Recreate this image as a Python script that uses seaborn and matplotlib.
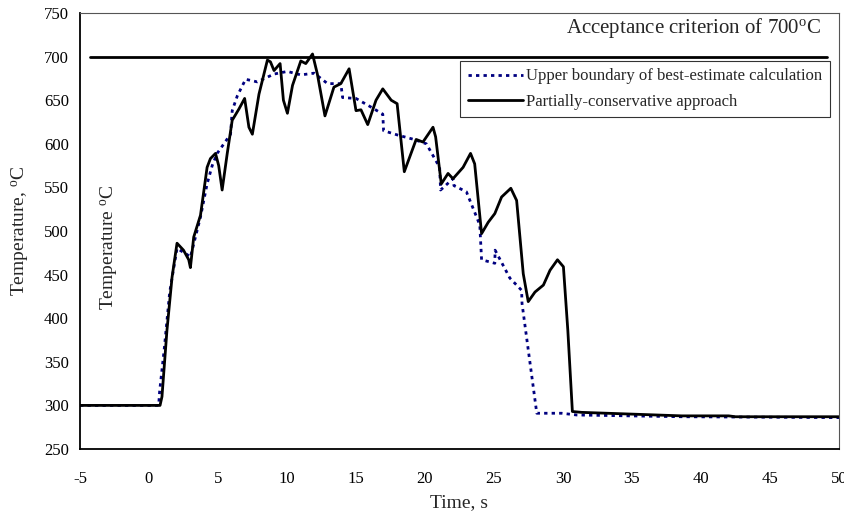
import matplotlib
matplotlib.use("Agg")
import matplotlib.pyplot as plt
import seaborn as sns
import pandas as pd

# Partially-conservative approach (solid)
t_cons = [-5, 0.8, 0.94, 1.3, 1.67, 2.03, 2.5, 2.88, 3.0, 3.24, 3.73, 4.21, 4.45, 4.82, 5.05, 5.3,
          5.67, 6.03, 6.52, 6.93, 7.24, 7.49, 7.97, 8.58, 8.8, 9.06, 9.5, 9.74, 10.03, 10.4, 11.0,
          11.36, 11.85, 12.2, 12.75, 13.4, 13.9, 14.5, 15.0, 15.36, 15.85, 16.45, 16.94, 17.55,
          17.98, 18.5, 19.36, 19.85, 20.58, 20.77, 21.18, 21.67, 22.03, 22.76, 23.3, 23.6, 24.1,
          24.58, 25.06, 25.55, 26.22, 26.64, 27.12, 27.48, 27.97, 28.58, 29.06, 29.6, 30.03,
          30.35, 30.68, 31.36, 35, 38.6, 42, 42.5, 50]
T_cons = [300, 300, 310, 386, 447, 486, 478, 467, 458, 493, 518, 573, 583, 589, 575, 547,
          589, 627, 640, 652, 619, 611, 657, 696, 694, 684, 692, 650, 635, 667, 695,
          692, 703, 680, 632, 665, 669, 686, 638, 639, 622, 650, 663, 650,
          646, 568, 605, 602, 619, 608, 554, 566, 560, 573, 589, 577, 497,
          510, 520, 539, 549, 535, 451, 419, 430, 438, 455, 467, 459,
          386, 293, 292, 290, 288, 288, 287, 287]

# Upper boundary of best-estimate calculation (dotted)
t_be = [-5, 0.7, 0.77, 1.1, 1.5, 2.03, 2.76, 3.0, 3.73, 4.21, 4.58, 4.94, 5.91, 6.03, 6.4, 7.0,
        7.85, 9.06, 10.03, 11.0, 11.97, 12.94, 13.9, 14.03, 15.0, 16.1, 16.94, 17.0, 18.03,
        19.2, 20.1, 21.06, 21.13, 22.03, 22.1, 23.0, 23.97, 24.1, 25.06, 25.08, 26.15, 27.0,
        27.03, 28.1, 29.9, 31, 38.6, 50]
T_be = [300, 300, 316, 364, 430, 480, 473, 470, 516, 554, 575, 589, 611, 638, 655, 674,
        671, 680, 683, 679, 681, 669, 669, 653, 652, 642, 634, 615, 610,
        605, 600, 573, 547, 560, 552, 545, 507, 467, 463, 478, 446, 432,
        417, 291, 291, 289, 287, 286]

crit_t = [-4.3, 49.1]
crit_T = [700, 700]

x_ticks = [-5, 0, 5, 10, 15, 20, 25, 30, 35, 40, 45, 50]
y_ticks = [250, 300, 350, 400, 450, 500, 550, 600, 650, 700, 750]

sns.set_theme(style="white")
plt.rcParams['font.family'] = ['Liberation Serif', 'DejaVu Serif']
plt.rcParams['mathtext.fontset'] = 'custom'
plt.rcParams['mathtext.rm'] = 'Liberation Serif'
plt.rcParams['mathtext.it'] = 'Liberation Serif:italic'

fig = plt.figure(figsize=(8.45, 5.15), dpi=100)
ax = fig.add_axes([80 / 845, 1 - 449 / 515, (839 - 80) / 845, (449 - 13) / 515])

df_be = pd.DataFrame({"t": t_be, "T": T_be})
df_cons = pd.DataFrame({"t": t_cons, "T": T_cons})
df_crit = pd.DataFrame({"t": crit_t, "T": crit_T})

sns.lineplot(data=df_crit, x="t", y="T", ax=ax, color="black", linewidth=2.0, sort=False)
sns.lineplot(data=df_be, x="t", y="T", ax=ax, color="#000080", linewidth=2.0, sort=False,
             linestyle=(0, (1.2, 1.5)), label="Upper boundary of best-estimate calculation")
sns.lineplot(data=df_cons, x="t", y="T", ax=ax, color="black", linewidth=2.0, sort=False,
             label="Partially-conservative approach")

ax.set_xlim(-5, 50)
ax.set_ylim(250, 750)
ax.set_xticks(x_ticks)
ax.set_yticks(y_ticks)
ax.set_xticklabels([str(v) for v in x_ticks])
ax.set_yticklabels([str(v) for v in y_ticks])
ax.tick_params(axis='both', direction='inout', length=8, width=1.0, colors='black',
               labelsize=12, pad=4)
ax.tick_params(axis='x', pad=12)
for s in ['left', 'bottom']:
    ax.spines[s].set_color('black')
    ax.spines[s].set_linewidth(1.3)
for s in ['top', 'right']:
    ax.spines[s].set_color('#555555')
    ax.spines[s].set_linewidth(0.8)

ax.set_xlabel("Time, s", fontsize=14, labelpad=5)
ax.set_ylabel("Temperature, $^\\mathrm{o}$C", fontsize=14, labelpad=9)

ax.text(48.7, 733, "Acceptance criterion of 700$^\\mathrm{o}$C", fontsize=15,
        ha='right', va='center')
ax.text(-2.85, 481, "Temperature $^\\mathrm{o}$C", fontsize=14, rotation=90,
        ha='center', va='center')

leg = ax.legend(loc='upper right', bbox_to_anchor=(0.988, 0.89), fontsize=12,
                frameon=True, fancybox=False, edgecolor='black', handlelength=3.3,
                handletextpad=0.2, borderpad=0.45, labelspacing=0.55, borderaxespad=0)
leg.get_frame().set_linewidth(0.8)

fig.savefig("out.png", dpi=100)
